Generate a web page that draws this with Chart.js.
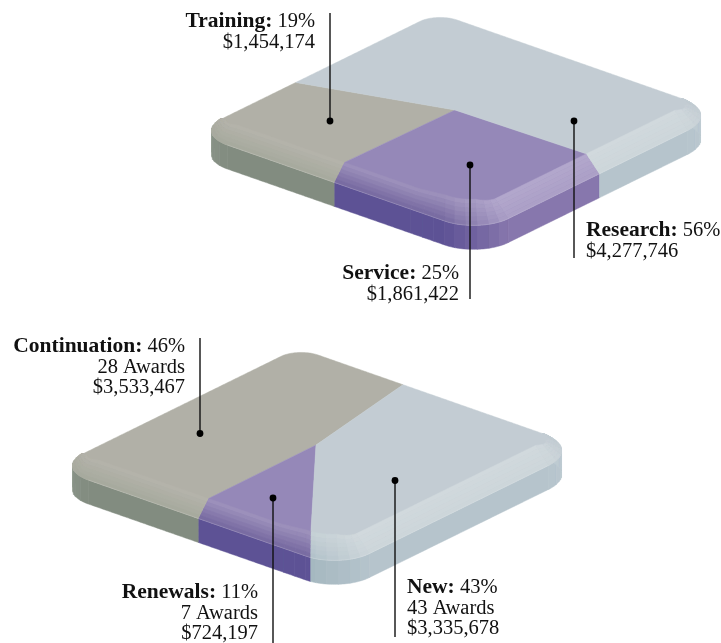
<!DOCTYPE html>
<html>
<head>
<meta charset="utf-8">
<title>Awards by purpose and type</title>
<style>
  html, body { margin: 0; background: #fff; }
  canvas { display: block; }
</style>
<script src="https://cdn.jsdelivr.net/npm/chart.js@4"></script>
</head>
<body>
<canvas id="plates" width="721" height="643"></canvas>
<script>
// Upper plate: funding by activity
var purposeNames = ['Training', 'Service', 'Research'];
var purposeShares = [19, 25, 56];
var purposeDollars = ['$1,454,174', '$1,861,422', '$4,277,746'];
// area each slice really covers in the picture (the plate is not quite to scale)
var purposeDrawnShares = [22.9, 28.0, 49.1];

// Lower plate: funding by award type
var typeNames = ['Continuation', 'Renewals', 'New'];
var typeShares = [46, 11, 43];
var typeAwards = ['28 Awards', '7 Awards', '43 Awards'];
var typeDollars = ['$3,533,467', '$724,197', '$3,335,678'];
var typeDrawnShares = [44.3, 11.0, 44.7];

// colour family of each slice, same order as the names
var purposeFamilies = ['stone', 'violet', 'mist'];
var typeFamilies = ['stone', 'violet', 'mist'];

var palette = {
    stone: { top: '#b1b0a7', sideA: '#828c80', sideB: '#a4aaa0', bevelA0: '#b5b4ab', bevelA1: '#a6a99d', bevelB0: '#c0bfb7', bevelB1: '#b8b9b0' },
    violet: { top: '#9588b8', sideA: '#5d5295', sideB: '#8777ad', bevelA0: '#a094be', bevelA1: '#75689f', bevelB0: '#b3a8cc', bevelB1: '#ab9fc7' },
    mist: { top: '#c3ccd3', sideA: '#a3b6bf', sideB: '#b6c4cc', bevelA0: '#c6d0d5', bevelA1: '#aebfc7', bevelB0: '#d1d9dd', bevelB1: '#cdd6da' }
};

// plate geometry, pixels of the upper plate
var origin = { x: 193, y: 133 };
var edgeU = { x: 286, y: 100 };
var edgeV = { x: 244, y: -120 };
var radiusLeft = 0.12, radiusBottom = 0.12, radiusRight = 0.145, radiusTop = 0.07;
var wallDepth = 24;
var hubUV = { u: 0.44, v: 0.558 };

function lerp(a, b, t) { return a + (b - a) * t; }

function hexRgb(h) {
    return [parseInt(h.substr(1, 2), 16), parseInt(h.substr(3, 2), 16), parseInt(h.substr(5, 2), 16)];
}

function mix(c1, c2, t) {
    var a = hexRgb(c1), b = hexRgb(c2);
    return 'rgb(' + Math.round(lerp(a[0], b[0], t)) + ',' + Math.round(lerp(a[1], b[1], t)) + ',' + Math.round(lerp(a[2], b[2], t)) + ')';
}

function mixHex(c1, c2, t) {
    var a = hexRgb(c1), b = hexRgb(c2), out = '#';
    for (var i = 0; i < 3; i++) {
        out += ('0' + Math.round(lerp(a[i], b[i], t)).toString(16)).slice(-2);
    }
    return out;
}

function toPx(u, v, dx, dy) {
    return {
        x: origin.x + u * edgeU.x + v * edgeV.x + dx,
        y: origin.y + u * edgeU.y + v * edgeV.y + dy
    };
}

// walk round the rounded plate: 0 left corner, 1 front-left edge, 2 bottom corner,
// 3 front-right edge, 4 right corner, 5 back-right edge, 6 top corner, 7 back-left edge
function buildRim() {
    var rl = radiusLeft, rb = radiusBottom, rr = radiusRight, rt = radiusTop, rim = [];
    var pieces = [
        { arc: [rl, rl, Math.PI, rl] },
        { line: [rl, 0, 1 - rb, 0] },
        { arc: [1 - rb, rb, Math.PI * 1.5, rb] },
        { line: [1, rb, 1, 1 - rr] },
        { arc: [1 - rr, 1 - rr, 0, rr] },
        { line: [1 - rr, 1, rt, 1] },
        { arc: [rt, 1 - rt, Math.PI / 2, rt] },
        { line: [0, 1 - rt, 0, rl] }
    ];
    pieces.forEach(function(p, idx) {
        var steps = p.arc ? 36 : 140;
        for (var i = 0; i < steps; i++) {
            var t = i / steps, u, v;
            if (p.arc) {
                var th = p.arc[2] + t * Math.PI / 2;
                u = p.arc[0] + p.arc[3] * Math.cos(th);
                v = p.arc[1] + p.arc[3] * Math.sin(th);
            } else {
                u = lerp(p.line[0], p.line[2], t);
                v = lerp(p.line[1], p.line[3], t);
            }
            var run = idx * 10 + (p.arc ? Math.floor(t * 6) : 0);
            // the flat top turns early at the end of the front-left edge
            if (idx === 1 && t > 0.84) run = idx * 10 + 1 + Math.floor((t - 0.84) / 0.16 * 3);
            rim.push({ u: u, v: v, piece: idx, t: t, run: run });
        }
    });
    return rim;
}

// how far the flat top sits inside the rim, pixels
function insetAt(s) {
    function seg(a, b, c, t) {
        return t < 0.5
            ? [lerp(a[0], b[0], t * 2), lerp(a[1], b[1], t * 2)]
            : [lerp(b[0], c[0], t * 2 - 1), lerp(b[1], c[1], t * 2 - 1)];
    }
    if (s.piece === 0) return seg([0, 0], [14, -13], [10, -20], s.t);
    if (s.piece === 1) {
        if (s.t < 0.84) return [10, -20];
        var k = (s.t - 0.84) / 0.16;
        return [lerp(10, 1, k), lerp(-20, -26, k)];
    }
    if (s.piece === 2) return seg([1, -26], [-2, -26], [-13, -20], s.t);
    if (s.piece === 3) return [-13, -20];
    if (s.piece === 4) return seg([-13, -20], [-16, -8], [0, 0], s.t);
    return [0, 0];
}

function wallColor(fam, s) {
    var c = palette[fam];
    if (s.piece === 0) return mix(mixHex(c.sideA, '#ffffff', 0.12), c.sideA, s.t);
    if (s.piece === 1) return c.sideA;
    if (s.piece === 2) return mix(c.sideA, c.sideB, s.t);
    if (s.piece === 3) return c.sideB;
    return mix(c.sideB, mixHex(c.sideB, '#ffffff', 0.15), s.t);
}

function bevelColor(fam, s, k) {
    var c = palette[fam];
    var a = mixHex(c.bevelA0, c.bevelA1, k), b = mixHex(c.bevelB0, c.bevelB1, k);
    if (s.piece === 0) return mix(c.top, a, Math.min(1, s.t * 1.6));
    if (s.piece === 1) return a;
    if (s.piece === 2) return mix(a, b, s.t);
    if (s.piece === 3) return b;
    return mix(b, c.top, Math.min(1, s.t * 1.4));
}

function polygon(points, color) {
    return {
        data: points,
        showLine: true,
        fill: 'shape',
        backgroundColor: color,
        borderColor: color,
        borderWidth: 0.5,
        pointRadius: 0,
        tension: 0,
        clip: false
    };
}

function stroke(points, color, width) {
    return {
        data: points,
        showLine: true,
        fill: false,
        borderColor: color,
        borderWidth: width,
        pointRadius: 0,
        tension: 0,
        clip: false
    };
}

// cut the rim at the drawn shares, area measured from the hub
function cutRim(rim, shares, startUV) {
    var n = rim.length, start = 0, best = 1e9, i;
    rim.forEach(function(s, idx) {
        var d = Math.pow(s.u - startUV.u, 2) + Math.pow(s.v - startUV.v, 2);
        if (d < best) { best = d; start = idx; }
    });
    var areas = [], total = 0;
    for (i = 0; i < n; i++) {
        var a = rim[i], b = rim[(i + 1) % n];
        var tri = Math.abs((a.u - hubUV.u) * (b.v - hubUV.v) - (b.u - hubUV.u) * (a.v - hubUV.v)) / 2;
        areas.push(tri);
        total += tri;
    }
    var sum = shares.reduce(function(x, y) { return x + y; }, 0);
    var cuts = [start], pos = start, acc = 0, target = 0;
    shares.forEach(function(share, idx) {
        target += share / sum * total;
        if (idx === shares.length - 1) { cuts.push(start + n); return; }
        while (acc < target) { acc += areas[pos % n]; pos++; }
        cuts.push(pos);
    });
    return cuts;
}

function platePolygons(rim, shares, families, startUV, dx, dy) {
    var n = rim.length, cuts = cutRim(rim, shares, startUV);
    var walls = [], tops = [], bevels = [], lines = [];
    var at = function(i) { return rim[i % n]; };
    var px = function(s, ox, oy) { return toPx(s.u, s.v, dx + ox, dy + oy); };

    shares.forEach(function(share, sl) {
        var fam = families[sl], i0 = cuts[sl], i1 = cuts[sl + 1];
        var hub = toPx(hubUV.u, hubUV.v, dx, dy);
        var first = insetAt(at(i0)), last = insetAt(at(i1));
        var poly = [hub, px(at(i0), first[0], first[1])];
        for (var i = i0; i <= i1; i++) poly.push(px(at(i), 0, 0));
        poly.push(px(at(i1), last[0], last[1]));
        poly.push(hub);
        tops.push(polygon(poly, palette[fam].top));

        // front strips, one polygon per stretch of the rim
        var j = i0;
        while (j < i1) {
            var s = at(j), e = j;
            while (e < i1 && at(e).run === s.run) e++;
            if (s.piece <= 4) {
                var mid = at(Math.floor((j + e) / 2));
                var low = [], k, q;
                for (k = j; k <= e; k++) low.push(px(at(k), 0, 0));
                var floor = [];
                for (k = e; k >= j; k--) floor.push(px(at(k), 0, wallDepth));
                walls.push(polygon(low.concat(floor), wallColor(fam, mid)));
                var bands = 6;
                for (q = 0; q < bands; q++) {
                    var upper = [], lower = [];
                    for (k = j; k <= e; k++) {
                        var o = insetAt(at(k));
                        upper.push(px(at(k), o[0] * (1 - q / bands), o[1] * (1 - q / bands)));
                        lower.unshift(px(at(k), o[0] * (1 - (q + 1) / bands), o[1] * (1 - (q + 1) / bands)));
                    }
                    bevels.push(polygon(upper.concat(lower), bevelColor(fam, mid, (q + 0.5) / bands)));
                }
                if (s.piece >= 1 && s.piece <= 3) {
                    lines.push(stroke(low, 'rgba(255,255,255,0.2)', 0.7));
                }
            }
            j = e;
        }
    });
    return walls.concat(tops, bevels, lines);
}

// leaders: pin on the slice, line running out to the label
function leader(x, yDot, yEnd) {
    return {
        data: [{ x: x, y: yDot }, { x: x, y: yEnd }],
        showLine: true,
        fill: false,
        borderColor: '#111',
        borderWidth: 1.4,
        backgroundColor: '#000',
        pointBackgroundColor: '#000',
        pointBorderWidth: 0,
        pointRadius: [3.4, 0],
        tension: 0,
        clip: false
    };
}

var labels = [
    { x: 315, y: 27, align: 'right', head: purposeNames[0] + ':', share: purposeShares[0], rows: [purposeDollars[0]] },
    { x: 459, y: 279, align: 'right', head: purposeNames[1] + ':', share: purposeShares[1], rows: [purposeDollars[1]] },
    { x: 586, y: 236, align: 'left', head: purposeNames[2] + ':', share: purposeShares[2], rows: [purposeDollars[2]] },
    { x: 185, y: 352, align: 'right', head: typeNames[0] + ':', share: typeShares[0], rows: [typeAwards[0], typeDollars[0]] },
    { x: 258, y: 598, align: 'right', head: typeNames[1] + ':', share: typeShares[1], rows: [typeAwards[1], typeDollars[1]] },
    { x: 407, y: 593, align: 'left', head: typeNames[2] + ':', share: typeShares[2], rows: [typeAwards[2], typeDollars[2]] }
];

var labelPlugin = {
    id: 'sliceLabels',
    afterDatasetsDraw: function(chart) {
        var ctx = chart.ctx, sx = chart.scales.x, sy = chart.scales.y;
        var bold = 'bold 21.5px "Liberation Serif"', plain = '20.5px "Liberation Serif"';
        ctx.save();
        ctx.fillStyle = '#111';
        ctx.textBaseline = 'alphabetic';
        labels.forEach(function(l) {
            var x = sx.getPixelForValue(l.x), y = sy.getPixelForValue(l.y);
            var tail = ' ' + l.share + '%';
            ctx.font = bold;
            var wHead = ctx.measureText(l.head).width;
            ctx.font = plain;
            var wTail = ctx.measureText(tail).width;
            var left = l.align === 'right' ? x - wHead - wTail : x;
            ctx.textAlign = 'left';
            ctx.font = bold;
            ctx.fillText(l.head, left, y);
            ctx.font = plain;
            ctx.fillText(tail, left + wHead, y);
            ctx.textAlign = l.align;
            l.rows.forEach(function(row, i) {
                ctx.fillText(row, x, y + (i + 1) * 20.7);
            });
        });
        ctx.restore();
    }
};

document.addEventListener('DOMContentLoaded', function() {
    var rim = buildRim();
    var painted = [];
    painted = painted.concat(platePolygons(rim, purposeDrawnShares, purposeFamilies, { u: 0, v: 0.419 }, 0, 0));
    painted = painted.concat(platePolygons(rim, typeDrawnShares, typeFamilies.slice(0), { u: 0.366, v: 1 }, -139, 335));
    painted.push(leader(330, 121, 13));
    painted.push(leader(470, 165, 299));
    painted.push(leader(574, 121, 258));
    painted.push(leader(200, 433.5, 338));
    painted.push(leader(273, 498, 643));
    painted.push(leader(395, 480.5, 637));

    // Chart.js paints the first dataset last, so hand them over back to front
    var ctx = document.getElementById('plates').getContext('2d');
    var platesChart = new Chart(ctx, {
        type: 'scatter',
        data: { datasets: painted.reverse() },
        options: {
            responsive: false,
            animation: false,
            layout: { padding: 0, autoPadding: false },
            plugins: { legend: { display: false }, tooltip: { enabled: false } },
            scales: {
                x: { type: 'linear', min: 0, max: 721, display: false },
                y: { type: 'linear', min: 0, max: 643, reverse: true, display: false }
            }
        },
        plugins: [labelPlugin]
    });
});
</script>
</body>
</html>
